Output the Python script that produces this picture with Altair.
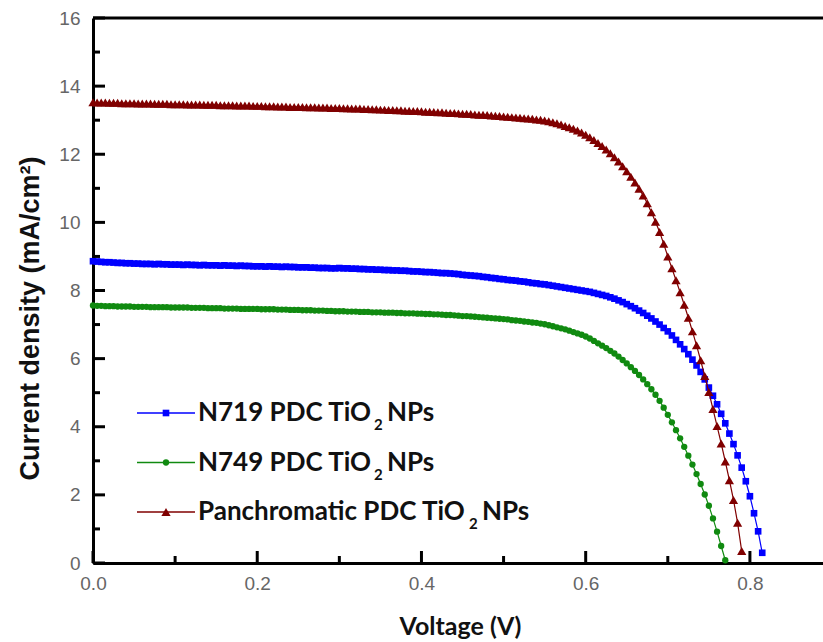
import altair as alt
import pandas as pd

# J-V curves, current density in mA/cm^2, one reading every 5 mV from 0 V
STEP_V = 0.005

n719 = [
    8.86, 8.85, 8.84, 8.83, 8.83, 8.82, 8.81, 8.81, 8.80, 8.80,
    8.79, 8.79, 8.78, 8.78, 8.78, 8.77, 8.78, 8.77, 8.77, 8.76,
    8.76, 8.76, 8.75, 8.76, 8.75, 8.75, 8.74, 8.75, 8.74, 8.74,
    8.74, 8.73, 8.74, 8.73, 8.73, 8.72, 8.73, 8.72, 8.72, 8.71,
    8.71, 8.71, 8.70, 8.71, 8.70, 8.70, 8.69, 8.70, 8.69, 8.69,
    8.68, 8.68, 8.68, 8.67, 8.67, 8.66, 8.66, 8.66, 8.65, 8.65,
    8.66, 8.65, 8.65, 8.64, 8.64, 8.63, 8.63, 8.62, 8.62, 8.61,
    8.61, 8.60, 8.60, 8.59, 8.59, 8.58, 8.58, 8.57, 8.56, 8.56,
    8.55, 8.54, 8.54, 8.53, 8.52, 8.51, 8.51, 8.50, 8.49, 8.48,
    8.46, 8.45, 8.44, 8.43, 8.42, 8.40, 8.39, 8.37, 8.36, 8.34,
    8.33, 8.31, 8.30, 8.29, 8.27, 8.26, 8.24, 8.22, 8.21, 8.19,
    8.18, 8.16, 8.14, 8.12, 8.10, 8.08, 8.06, 8.04, 8.02, 8.00,
    7.98, 7.96, 7.93, 7.90, 7.87, 7.84, 7.80, 7.76, 7.71, 7.66,
    7.60, 7.54, 7.48, 7.41, 7.34, 7.26, 7.18, 7.09, 7.00, 6.90,
    6.80, 6.68, 6.55, 6.42, 6.28, 6.13, 5.97, 5.80, 5.61, 5.39,
    5.15, 4.91, 4.66, 4.38, 4.10, 3.80, 3.49, 3.16, 2.80, 2.40,
    1.96, 1.46, 0.93, 0.30,
]

n749 = [
    7.56, 7.55, 7.55, 7.54, 7.54, 7.54, 7.53, 7.53, 7.53, 7.53,
    7.52, 7.52, 7.52, 7.52, 7.51, 7.51, 7.51, 7.51, 7.51, 7.50,
    7.50, 7.50, 7.50, 7.50, 7.49, 7.49, 7.49, 7.49, 7.48, 7.48,
    7.48, 7.48, 7.47, 7.47, 7.47, 7.47, 7.46, 7.46, 7.46, 7.46,
    7.46, 7.45, 7.45, 7.45, 7.45, 7.44, 7.44, 7.44, 7.43, 7.43,
    7.43, 7.42, 7.42, 7.42, 7.41, 7.41, 7.41, 7.40, 7.40, 7.39,
    7.39, 7.39, 7.38, 7.38, 7.38, 7.37, 7.37, 7.37, 7.36, 7.36,
    7.36, 7.35, 7.35, 7.35, 7.34, 7.34, 7.33, 7.33, 7.33, 7.32,
    7.32, 7.31, 7.31, 7.30, 7.30, 7.29, 7.28, 7.28, 7.27, 7.26,
    7.25, 7.25, 7.24, 7.23, 7.22, 7.21, 7.20, 7.19, 7.18, 7.17,
    7.16, 7.15, 7.13, 7.12, 7.11, 7.09, 7.08, 7.06, 7.05, 7.03,
    7.01, 6.98, 6.95, 6.92, 6.89, 6.86, 6.82, 6.78, 6.74, 6.70,
    6.65, 6.59, 6.52, 6.45, 6.38, 6.31, 6.23, 6.15, 6.06, 5.96,
    5.86, 5.75, 5.64, 5.52, 5.39, 5.25, 5.10, 4.94, 4.76, 4.56,
    4.35, 4.13, 3.90, 3.66, 3.41, 3.15, 2.89, 2.61, 2.32, 2.01,
    1.68, 1.31, 0.92, 0.50, 0.08,
]

panchromatic = [
    13.53, 13.52, 13.52, 13.52, 13.51, 13.51, 13.51, 13.50, 13.50, 13.50,
    13.50, 13.49, 13.49, 13.49, 13.49, 13.48, 13.48, 13.48, 13.48, 13.47,
    13.47, 13.47, 13.47, 13.46, 13.46, 13.46, 13.46, 13.45, 13.45, 13.45,
    13.45, 13.44, 13.44, 13.44, 13.44, 13.43, 13.43, 13.43, 13.43, 13.42,
    13.42, 13.42, 13.41, 13.41, 13.41, 13.40, 13.40, 13.40, 13.39, 13.39,
    13.39, 13.39, 13.38, 13.38, 13.38, 13.37, 13.37, 13.37, 13.36, 13.36,
    13.36, 13.35, 13.35, 13.34, 13.34, 13.34, 13.33, 13.33, 13.32, 13.32,
    13.31, 13.31, 13.30, 13.30, 13.29, 13.29, 13.28, 13.28, 13.27, 13.27,
    13.26, 13.25, 13.25, 13.24, 13.23, 13.23, 13.22, 13.21, 13.21, 13.20,
    13.19, 13.19, 13.18, 13.17, 13.16, 13.16, 13.15, 13.14, 13.13, 13.12,
    13.11, 13.10, 13.09, 13.08, 13.07, 13.06, 13.05, 13.04, 13.02, 13.01,
    12.99, 12.97, 12.94, 12.91, 12.87, 12.83, 12.79, 12.75, 12.70, 12.64,
    12.57, 12.50, 12.42, 12.33, 12.24, 12.14, 12.03, 11.91, 11.79, 11.65,
    11.50, 11.34, 11.17, 10.99, 10.79, 10.56, 10.30, 10.02, 9.72, 9.37,
    9.00, 8.65, 8.30, 7.95, 7.58, 7.20, 6.80, 6.39, 5.95, 5.49,
    5.02, 4.52, 4.02, 3.51, 2.98, 2.43, 1.85, 1.18, 0.35,
]

series_keys = ["N719", "N749", "Panchromatic"]
series_values = [n719, n749, panchromatic]
legend_main = ["N719 PDC TiO", "N749 PDC TiO", "Panchromatic PDC TiO"]
legend_sub = ["2", "2", "2"]
legend_tail = ["NPs", "NPs", "NPs"]

colors = ["#0000ff", "#108a10", "#800000"]
shapes = ["square", "circle", "triangle-up"]
marker_sizes = [44, 40, 85]

y_major = [0, 2, 4, 6, 8, 10, 12, 14, 16]
y_minor = [1, 3, 5, 7, 9, 11, 13, 15]
x_major = [0.0, 0.2, 0.4, 0.6, 0.8]
x_minor = [0.1, 0.3, 0.5, 0.7]

W, H = 730, 545
X_MAX = 0.889
Y_MAX = 16

rows = []
for key, vals in zip(series_keys, series_values):
    for i, j in enumerate(vals):
        rows.append({"series": key, "V": round(i * STEP_V, 3), "J": j})
df = pd.DataFrame(rows)

x_scale = alt.Scale(domain=[0, X_MAX], nice=False, zero=False)
y_scale = alt.Scale(domain=[0, Y_MAX], nice=False)

x_enc = alt.X(
    "V:Q", scale=x_scale,
    axis=alt.Axis(values=x_major, format=".1f", title="Voltage (V)",
                  titleFont="Lato", titleFontSize=25, titleFontWeight="bold",
                  titleColor="#111", titleX=367, titleY=71,
                  titleBaseline="alphabetic", labelPadding=11,
                  labelFlush=False),
)
y_enc = alt.Y(
    "J:Q", scale=y_scale,
    axis=alt.Axis(values=y_major, format="d", title="Current density (mA/cm²)",
                  titleFont="Liberation Sans", titleFontSize=27,
                  titleFontWeight="bold", titleColor="#111",
                  titleAngle=270, titleX=-55, titleY=300,
                  titleAlign="center", titleBaseline="alphabetic",
                  labelPadding=13),
)

layers = []

# J-V curves: thin line plus a marker at every reading
for key, col, shp, sz in zip(series_keys, colors, shapes, marker_sizes):
    sub = alt.Chart(df).transform_filter(alt.datum.series == key)
    layers.append(sub.mark_line(color=col, strokeWidth=1.2).encode(x=x_enc, y=y_enc))
    layers.append(
        sub.mark_point(shape=shp, filled=True, size=sz, color=col, opacity=1)
        .encode(x=x_enc, y=y_enc)
    )

# inward tick marks: tick glyphs centred half their length inside the axis lines
for vals, length in ((y_major, 12), (y_minor, 7)):
    layers.append(
        alt.Chart(pd.DataFrame({"J": vals}))
        .mark_tick(color="black", thickness=3, size=length, orient="horizontal", opacity=1)
        .encode(y=alt.Y("J:Q", scale=y_scale), x=alt.value(length / 2))
    )
for vals, length in ((x_major, 12), (x_minor, 7)):
    layers.append(
        alt.Chart(pd.DataFrame({"V": vals}))
        .mark_tick(color="black", thickness=3, size=length, orient="vertical", opacity=1)
        .encode(x=alt.X("V:Q", scale=x_scale), y=alt.value(H - length / 2))
    )

# top frame line
layers.append(
    alt.Chart(pd.DataFrame({"J": [Y_MAX]})).mark_rule(color="black", strokeWidth=3)
    .encode(y=alt.Y("J:Q", scale=y_scale))
)

# legend drawn in the lower-left of the plot
one_row = pd.DataFrame({"k": [0]})
main_widths = [173, 173, 268]
for k, (col, shp, sz) in enumerate(zip(colors, shapes, marker_sizes)):
    yy = 395 + k * 49.5
    base = alt.Chart(one_row)
    layers.append(base.mark_rule(color=col, strokeWidth=1.5).encode(
        x=alt.value(44), x2=alt.value(102), y=alt.value(yy)))
    layers.append(base.mark_point(shape=shp, filled=True, size=sz, color=col, opacity=1)
                  .encode(x=alt.value(73), y=alt.value(yy)))
    w = main_widths[k]
    text_style = dict(font="Lato", fontWeight="bold", color="#111", align="left")
    layers.append(base.mark_text(fontSize=26, baseline="middle", **text_style)
                  .encode(x=alt.value(105), y=alt.value(yy), text=alt.value(legend_main[k])))
    layers.append(base.mark_text(fontSize=15, baseline="middle", **text_style)
                  .encode(x=alt.value(105 + w + 3), y=alt.value(yy + 12),
                          text=alt.value(legend_sub[k])))
    layers.append(base.mark_text(fontSize=26, baseline="middle", **text_style)
                  .encode(x=alt.value(105 + w + 16), y=alt.value(yy),
                          text=alt.value(legend_tail[k])))

chart = (
    alt.layer(*layers)
    .properties(width=W, height=H,
                autosize=alt.AutoSizeParams(type="none"),
                padding={"left": 93, "top": 18, "right": 0, "bottom": 79},
                background="white")
    .configure_view(stroke=None)
    .configure_axis(grid=False, ticks=False, domainColor="black", domainWidth=3,
                    labelColor="#666666", labelFont="Liberation Sans",
                    labelFontSize=19)
)

chart.save("out.html", embed_options={"renderer": "svg", "actions": False})
